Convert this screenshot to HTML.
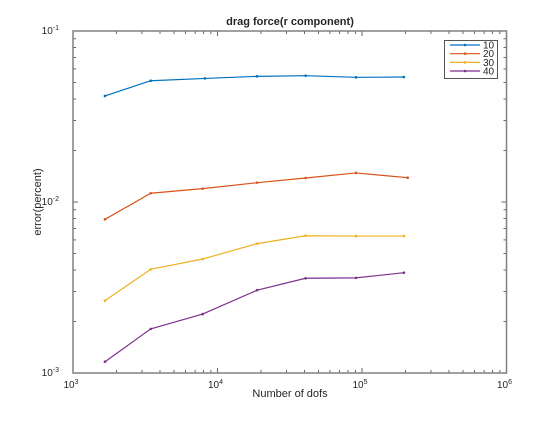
<!DOCTYPE html>
<html><head><meta charset="utf-8"><style>
body{margin:0;background:#fff}
svg text{font-family:"Liberation Sans",sans-serif;fill:#262626}
</style></head><body>
<svg id="c" width="560" height="420" xmlns="http://www.w3.org/2000/svg"></svg>
<script>
const seriesNames=["10","20","30","40"];
const xs10=[1664,3450,8180,18800,40700,90800,195000];
const xs20=[1664,3450,7900,18800,40700,90800,207000];
const xs30=[1664,3450,7890,18800,40700,90800,195000];
const xs40=[1664,3450,7890,18800,40700,90800,195000];
const ys10=[0.0417,0.0512,0.0528,0.0543,0.0548,0.0536,0.0538];
const ys20=[0.00792,0.01125,0.01197,0.01297,0.01381,0.01479,0.01387];
const ys30=[0.00265,0.00404,0.00464,0.00571,0.00635,0.00632,0.00632];
const ys40=[0.001164,0.00181,0.00221,0.00305,0.00358,0.0036,0.00386];
const xTickExp=[3,4,5,6];
const yTickExp=[-3,-2,-1];
const colors=["#0072BD","#D95319","#EDB120","#7E2F8E"];
const L=73,R=506.5,T=31,B=373;
const xMin=3,xMax=6,yMin=-3,yMax=-1;
const sx=v=>L+(Math.log10(v)-xMin)/(xMax-xMin)*(R-L);
const sy=v=>B-(Math.log10(v)-yMin)/(yMax-yMin)*(B-T);
const svg=document.getElementById('c');
const NS="http://www.w3.org/2000/svg";
function mk(t,a,p){const e=document.createElementNS(NS,t);for(const k in a)e.setAttribute(k,a[k]);(p||svg).appendChild(e);return e;}
// ticks
const tg=mk('g',{});


for(let d=xMin;d<xMax;d++)for(let m=1;m<10;m++){const x=sx(m*Math.pow(10,d));const len=m==1?5:3;
 mk('line',{x1:x,x2:x,y1:B,y2:B-len,stroke:'#262626','stroke-width':0.7},tg);
 mk('line',{x1:x,x2:x,y1:T,y2:T+len,stroke:'#262626','stroke-width':0.7},tg);}
for(let d=yMin;d<yMax;d++)for(let m=1;m<10;m++){const y=sy(m*Math.pow(10,d));const len=m==1?5:3;
 mk('line',{x1:L,x2:L+len,y1:y,y2:y,stroke:'#262626','stroke-width':0.7},tg);
 mk('line',{x1:R,x2:R-len,y1:y,y2:y,stroke:'#262626','stroke-width':0.7},tg);}
const box=mk('rect',{x:L,y:T,width:R-L,height:B-T,fill:'none',stroke:'#808080','stroke-width':1.5});


xTickExp.forEach(e=>{const t=mk('text',{x:sx(Math.pow(10,e))-2,y:B+15,'font-size':10,'text-anchor':'middle'});
 
 
 t.innerHTML='10<tspan dy="-4" font-size="7">'+e+'</tspan>';});
yTickExp.forEach(e=>{const t=mk('text',{x:L-14,y:sy(Math.pow(10,e))+3,'font-size':10,'text-anchor':'end'});
 
 
 t.innerHTML='10<tspan dy="-4" font-size="7">'+e+'</tspan><tspan dy="4"> </tspan>';});
const allX=[xs10,xs20,xs30,xs40],allY=[ys10,ys20,ys30,ys40];
allX.forEach((xa,i)=>{const g=mk('g',{});
 
 
 const pts=xa.map((x,j)=>sx(x)+','+sy(allY[i][j])).join(' ');
 mk('polyline',{points:pts,fill:'none',stroke:colors[i],'stroke-width':1.2},g);
 xa.forEach((x,j)=>{const c=mk('circle',{cx:sx(x),cy:sy(allY[i][j]),r:1.3,fill:colors[i]},g);
  
  });});
// legend
const lg=mk('g',{});


mk('rect',{x:444.5,y:40.5,width:53,height:38,fill:'#fff',stroke:'#555','stroke-width':1},lg);
seriesNames.forEach((n,i)=>{const y=45+i*8.67;
 const e=mk('g',{},lg);
 
 
 mk('line',{x1:450,x2:480,y1:y,y2:y,stroke:colors[i],'stroke-width':1.2},e);
 mk('circle',{cx:465,cy:y,r:1.3,fill:colors[i]},e);
 const t=mk('text',{x:483,y:y+3.5,'font-size':10},e);t.textContent=n;});
const ti=mk('text',{x:290,y:25,'font-size':11,'font-weight':'bold','text-anchor':'middle'});


ti.textContent='drag force(r component)';
const xl=mk('text',{x:290,y:397,'font-size':11,'text-anchor':'middle'});


xl.textContent='Number of dofs';
const yl=mk('text',{x:0,y:0,'font-size':11,'text-anchor':'middle',transform:'translate(41,202) rotate(-90)'});


yl.textContent='error(percent)';
</script>
</body></html>
